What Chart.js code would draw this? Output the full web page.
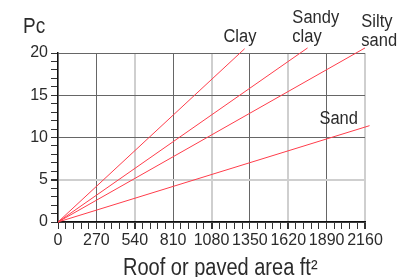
<!DOCTYPE html>
<html>
<head>
<meta charset="utf-8">
<script src="https://cdn.jsdelivr.net/npm/chart.js@4.4.0/dist/chart.umd.min.js"></script>
<style>
  body { margin: 0; background: #fff; }
  #runoff { display: block; }
</style>
</head>
<body>
<canvas id="runoff" width="408" height="277"></canvas>
<script>
// soil types and the end of each straight line (Pc vs area)
var soils = ['Clay', 'Sandy clay', 'Silty sand', 'Sand'];
var endArea = [1313, 1756, 2160, 2192];
var endPc = [20.5, 20.6, 20.6, 11.4];
var areaLabels = [0, 270, 540, 810, 1080, 1350, 1620, 1890, 2160];
var pcLabels = [0, 5, 10, 15, 20];

var red = '#ff3d4b';
var ink = '#2b2b2b';

var datasets = soils.map(function (name, i) {
  return {
    label: name,
    data: [{x: 0, y: 0}, {x: endArea[i], y: endPc[i]}],
    borderColor: red,
    borderWidth: 1,
    pointRadius: 0,
    showLine: true,
    clip: false
  };
});

// where the soil names sit (left edge / first baseline, data units)
var notes = [
  {lines: ['Clay'], x: 1164, y: 21.3},
  {lines: ['Sandy', 'clay'], x: 1649, y: 23.6},
  {lines: ['Silty', 'sand'], x: 2134, y: 23.1},
  {lines: ['Sand'], x: 1839, y: 11.6}
];

// the original lettering is a tall, narrow face: stretch Liberation Sans a bit
function tallText(ctx, text, x, y, size, sy, align) {
  ctx.save();
  ctx.translate(x, y);
  ctx.scale(1, sy);
  ctx.font = size + 'px "Liberation Sans"';
  ctx.textAlign = align;
  ctx.textBaseline = 'alphabetic';
  ctx.fillText(text, 0, 0);
  ctx.restore();
}

var textPlugin = {
  id: 'soilText',
  afterDraw: function (chart) {
    var ctx = chart.ctx;
    var xs = chart.scales.x, ys = chart.scales.y;
    ctx.save();
    ctx.fillStyle = ink;
    notes.forEach(function (n) {
      var px = xs.getPixelForValue(n.x);
      var py = ys.getPixelForValue(n.y);
      n.lines.forEach(function (t, k) {
        tallText(ctx, t, px, py + k * 19, 16.5, 1.12, 'left');
      });
    });
    // axis names
    tallText(ctx, 'Pc', 23, 33, 19, 1.12, 'left');
    tallText(ctx, 'Roof or paved area ft\u00b2', xs.getPixelForValue(1142), 275, 20, 1.16, 'center');
    ctx.restore();
  }
};

function isMajor(v, step) {
  return Math.abs(v / step - Math.round(v / step)) < 1e-6;
}

new Chart(document.getElementById('runoff'), {
  type: 'scatter',
  data: {datasets: datasets},
  plugins: [textPlugin],
  options: {
    responsive: false,
    animation: false,
    layout: {padding: {left: 0, right: 43, top: 53, bottom: 0}},
    plugins: {legend: {display: false}, tooltip: {enabled: false}},
    scales: {
      x: {
        type: 'linear',
        min: 0, max: 2160,
        afterFit: function (s) { s.height = 55; },
        ticks: {
          stepSize: 54,
          autoSkip: false,
          maxRotation: 0,
          padding: 2,
          color: ink,
          font: {family: 'Liberation Sans', size: 16},
          callback: function (v) {
            return areaLabels.indexOf(v) >= 0 ? String(v) : '';
          }
        },
        grid: {
          tickLength: 7,
          tickColor: '#333',
          color: function (c) {
            var v = c.tick.value;
            if (!isMajor(v, 270)) return 'rgba(0,0,0,0)';
            return isMajor(v, 540) ? '#cfcfcf' : '#666';
          },
          lineWidth: function (c) {
            var v = c.tick.value;
            return isMajor(v, 540) && v > 0 ? 2 : 1;
          }
        },
        border: {color: '#111', width: 1.5}
      },
      y: {
        min: 0, max: 20,
        afterFit: function (s) { s.width = 58; },
        ticks: {
          stepSize: 1,
          autoSkip: false,
          padding: 3,
          color: ink,
          font: {family: 'Liberation Sans', size: 16},
          callback: function (v) {
            return pcLabels.indexOf(v) >= 0 ? String(v) : '';
          }
        },
        grid: {
          tickLength: 7,
          tickColor: '#333',
          color: function (c) {
            var v = c.tick.value;
            if (!isMajor(v, 5)) return 'rgba(0,0,0,0)';
            return v === 5 ? '#cfcfcf' : '#666';
          },
          lineWidth: function (c) { return c.tick.value === 5 ? 2 : 1; }
        },
        border: {color: '#111', width: 1.5}
      }
    }
  }
});
</script>
</body>
</html>
